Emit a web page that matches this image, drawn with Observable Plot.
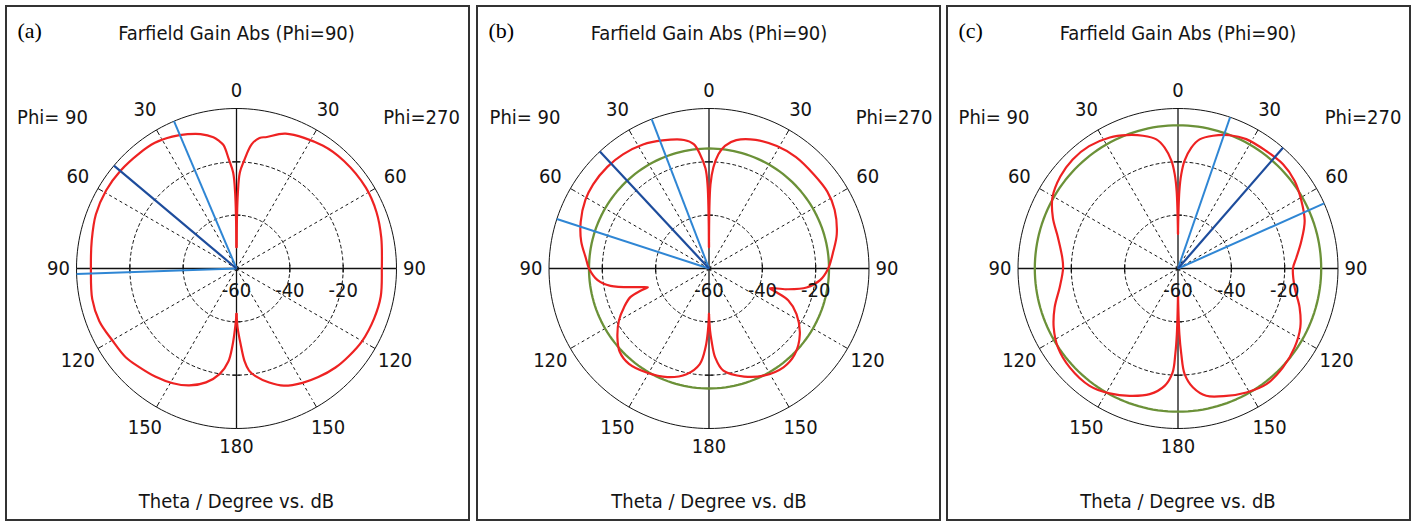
<!DOCTYPE html>
<html><head><meta charset="utf-8">
<script src="https://cdn.jsdelivr.net/npm/d3@7"></script>
<script src="https://cdn.jsdelivr.net/npm/@observablehq/plot@0.6"></script>
<style>
body{margin:0;background:#fff;width:1416px;height:522px;overflow:hidden;position:relative}
.panel{position:absolute;top:5px;width:461px;height:512px;border:2px solid #333;background:#fff}
.panel svg{display:block}
</style></head><body>
<div id="p0" class="panel" style="left:5px"></div>
<div id="p1" class="panel" style="left:476px"></div>
<div id="p2" class="panel" style="left:946px"></div>
<script>
// ---------- data ----------
const DB_MIN = -60, DB_MAX = 0;
const gridDb = [-40, -20];
const radialLabelDb = [-60, -40, -20];
const thetaTicks = [0, 30, 60, 90, 120, 150, 180];
const spokeThetas = [30, 60, 120, 150];
const panelTags = ["(a)", "(b)", "(c)"];
const titleText = "Farfield Gain Abs (Phi=90)";
const captionText = "Theta / Degree vs. dB";
const phiLeftLabel = "Phi= 90";
const phiRightLabel = "Phi=270";

// [theta (deg), gain (dB)]
const redA_phi90 = [[0,-52],[1,-32],[2,-24],[4,-19],[6,-13.5],[8,-11.5],[10,-10],[15,-7.8],[20,-6.4],[26,-5],[33,-3.8],[40,-3.5],[50,-3.1],[59,-3],[69,-3.5],[79,-4.7],[90,-5.4],[102,-4.7],[111,-4.9],[120,-6.2],[129,-6.8],[135,-8],[143,-9.3],[151,-10.8],[158,-12.7],[165,-15.8],[171,-20],[175,-25],[177,-31],[178,-35],[179,-39],[180,-43]];
const redA_phi270 = [[0,-52],[1,-32],[2,-24],[4,-19.5],[7,-13],[10,-10.3],[13,-9.4],[20,-6.2],[35,-3.7],[45,-3],[58,-2.8],[68,-3.4],[78,-4.5],[90,-5.5],[101,-4.9],[110,-5.1],[120,-5.6],[128,-6.6],[135,-7.5],[143,-9],[150,-10.5],[158,-12.6],[164,-15.5],[170,-19],[173,-21.4],[175,-25],[177,-32],[178,-35],[179,-38],[180,-43]];
const redB_phi90 = [[0,-52],[1,-28.5],[2,-22.5],[4.5,-17],[7,-13],[11,-10.9],[20,-8.9],[28,-7.3],[37,-6.4],[45,-6.1],[54,-6.3],[61,-7],[70,-8.8],[78,-11],[85,-13.6],[90,-15],[96,-18],[100,-22.5],[104.5,-32],[107,-36],[108,-33],[110,-28.6],[114.5,-25],[120,-21],[127,-17],[133,-14.2],[140,-13.3],[149,-14.5],[159,-16.4],[168,-19.5],[174.5,-24],[177.5,-30.4],[179,-36.6],[180,-43]];
const redB_phi270 = [[0,-52],[1,-28.5],[2.5,-22],[4.7,-17],[7.4,-13.6],[12,-10.8],[20,-8.7],[29,-7.5],[38,-7],[48,-7.2],[57,-7.1],[65,-8],[75,-10.4],[82,-12.9],[90,-15.3],[96,-18.1],[101,-22.7],[105,-29.9],[108,-36],[109.5,-33],[112,-27.9],[117.5,-23],[126,-17.9],[135,-14.5],[143,-13.6],[153,-14.9],[162,-17.4],[172,-21.3],[176,-26.5],[178,-32.9],[179,-36.6],[180,-43]];
const redC_phi90 = [[0,-47],[1,-31],[2,-24.6],[3.5,-19.5],[6.3,-14.4],[9.5,-10.9],[14.8,-8.5],[21,-6.4],[27.5,-4.6],[36,-3.3],[44,-3.15],[52,-4],[60.5,-5.9],[68,-9.4],[75.5,-13.5],[84.6,-16.4],[90,-16.9],[99,-15.1],[107.5,-11.5],[115.4,-8.4],[123.4,-6.1],[132.4,-5],[143,-4.9],[151.3,-6.6],[159.2,-8.9],[167.3,-11.7],[173.5,-15.7],[177,-20.9],[178.2,-27.9],[179,-35.4],[180,-50]];
const redC_phi270 = [[0,-47],[1,-31],[2,-24.6],[3.5,-19.5],[6.3,-14.4],[9.5,-10.9],[14.8,-8.5],[21.2,-6.4],[27.8,-5.15],[36.9,-4.9],[45.2,-4.5],[53.1,-5.3],[61.2,-7.2],[69.4,-9.25],[77.4,-12.6],[84.7,-15.4],[90,-16.9],[99.2,-15.7],[107.8,-12.1],[115.7,-9.1],[124.1,-7.2],[133.3,-5.9],[142.6,-5.4],[151.1,-6.9],[159.2,-8.9],[167.5,-11.1],[172.8,-15],[176.4,-20.3],[177.8,-27.9],[178.8,-35.4],[180,-50]];
const greenLevel = [null, -15, -6.3];          // dB circle
const mainLobeTheta = [50, 43, 41];
const mainLobePhi = [90, 90, 270];
const beamEdgeTheta = [[23, 92], [21, 72], [19, 66]];
const redSeries = [[redA_phi90, redA_phi270], [redB_phi90, redB_phi270], [redC_phi90, redC_phi270]];

// ---------- layout / style ----------
const R_PX = 160;
const centerX = [229, 230.5, 229.5];
const centerY = 261;
const SANS = "'DejaVu Sans Condensed', 'DejaVu Sans', sans-serif";
const SERIF = "'Liberation Serif', 'DejaVu Serif', serif";
const FS = 20;
const INK = "#141414";
const RED = "#ee2222", GREEN = "#6b9138", BLUE_L = "#2f86d4", BLUE_D = "#1d4c9c";

const span = DB_MAX - DB_MIN;
const k = R_PX / span;
const rad = d => d * Math.PI / 180;
const rOf = db => Math.max(0, db - DB_MIN);
function polar(theta, db, phi) {
  const s = phi === 90 ? -1 : 1, r = rOf(db);
  return {x: s * r * Math.sin(rad(theta)), y: r * Math.cos(rad(theta))};
}
function circle(db) {
  const r = rOf(db);
  return d3.range(0, 361, 2).map(a => ({x: r * Math.sin(rad(a)), y: r * Math.cos(rad(a))}));
}

function panel(i) {
  const cx = centerX[i];
  const marks = [];
  for (const v of gridDb) marks.push(Plot.line(circle(v), {x: "x", y: "y", stroke: INK, strokeWidth: 1, strokeDasharray: "3,3"}));
  const spokes = spokeThetas.flatMap(t => [90, 270].map(p => ({t, p})));
  marks.push(Plot.link(spokes, {
    x1: () => 0, y1: () => 0,
    x2: d => polar(d.t, DB_MAX - 3.2, d.p).x, y2: d => polar(d.t, DB_MAX - 3.2, d.p).y,
    stroke: INK, strokeWidth: 1, strokeDasharray: "3,3"}));
  marks.push(Plot.link(spokes, {
    x1: d => polar(d.t, DB_MAX - 2.2, d.p).x, y1: d => polar(d.t, DB_MAX - 2.2, d.p).y,
    x2: d => polar(d.t, DB_MAX, d.p).x, y2: d => polar(d.t, DB_MAX, d.p).y,
    stroke: INK, strokeWidth: 1}));
  marks.push(Plot.line(circle(DB_MAX), {x: "x", y: "y", stroke: INK, strokeWidth: 1}));
  const R = rOf(DB_MAX);
  marks.push(Plot.link([{x1: -R, y1: 0, x2: R, y2: 0}, {x1: 0, y1: -R, x2: 0, y2: R}],
    {x1: "x1", y1: "y1", x2: "x2", y2: "y2", stroke: "#111", strokeWidth: 1.3}));
  const tl = 4 / k;
  const axTicks = gridDb.flatMap(v => {
    const r = rOf(v);
    return [
      {x1: r, y1: -tl, x2: r, y2: tl}, {x1: -r, y1: -tl, x2: -r, y2: tl},
      {x1: -tl, y1: r, x2: tl, y2: r}, {x1: -tl, y1: -r, x2: tl, y2: -r}];
  });
  marks.push(Plot.link(axTicks, {x1: "x1", y1: "y1", x2: "x2", y2: "y2", stroke: "#111", strokeWidth: 1.2}));
  if (greenLevel[i] != null) marks.push(Plot.line(circle(greenLevel[i]), {x: "x", y: "y", stroke: GREEN, strokeWidth: 2.3}));
  const [s90, s270] = redSeries[i];
  for (const [ser, phi] of [[s90, 90], [s270, 270]]) {
    marks.push(Plot.line(ser.map(([t, g]) => polar(t, g, phi)),
      {x: "x", y: "y", stroke: RED, strokeWidth: 2.2, curve: "catmull-rom"}));
  }
  const bl = beamEdgeTheta[i].map(t => ({t, p: mainLobePhi[i]}));
  marks.push(Plot.link(bl, {x1: () => 0, y1: () => 0,
    x2: d => polar(d.t, DB_MAX, d.p).x, y2: d => polar(d.t, DB_MAX, d.p).y, stroke: BLUE_L, strokeWidth: 2}));
  marks.push(Plot.link([{t: mainLobeTheta[i], p: mainLobePhi[i]}], {x1: () => 0, y1: () => 0,
    x2: d => polar(d.t, DB_MAX, d.p).x, y2: d => polar(d.t, DB_MAX, d.p).y, stroke: BLUE_D, strokeWidth: 2.2}));
  const labs = thetaTicks.flatMap(t => (t === 0 || t === 180) ? [{t, p: 270}] : [{t, p: 90}, {t, p: 270}]);
  const lr = t => (178 + 6 * Math.abs(Math.sin(rad(2 * t)))) / k + DB_MIN;
  marks.push(Plot.text(labs, {
    x: d => polar(d.t, lr(d.t), d.p).x, y: d => polar(d.t, lr(d.t), d.p).y,
    text: d => String(d.t), fontSize: FS, fontFamily: SANS, fill: INK, textAnchor: "middle", lineAnchor: "middle"}));
  marks.push(Plot.text(radialLabelDb, {
    x: v => rOf(v), y: () => -22 / k, text: v => String(v),
    fontSize: FS, fontFamily: SANS, fill: INK, textAnchor: "middle", lineAnchor: "middle"}));
  marks.push(Plot.text([{s: phiLeftLabel, x: -184}, {s: phiRightLabel, x: 185}], {
    x: d => d.x / k, y: () => 151 / k, text: "s",
    fontSize: FS, fontFamily: SANS, fill: INK, textAnchor: "middle", lineAnchor: "middle"}));
  marks.push(Plot.text([titleText], {x: () => 0, y: () => 235 / k, text: d => d,
    fontSize: FS, fontFamily: SANS, fill: INK, textAnchor: "middle", lineAnchor: "middle"}));
  marks.push(Plot.text([captionText], {x: () => 0, y: () => -233 / k, text: d => d,
    fontSize: FS, fontFamily: SANS, fill: INK, textAnchor: "middle", lineAnchor: "middle"}));
  marks.push(Plot.text([panelTags[i]], {x: () => -(cx - 10) / k, y: () => 238 / k, text: d => d,
    fontSize: 22, fontFamily: SERIF, fill: "#000", textAnchor: "start", lineAnchor: "middle"}));

  return Plot.plot({
    width: 461, height: 512, margin: 0,
    x: {domain: [-span, span], range: [cx - R_PX, cx + R_PX], axis: null},
    y: {domain: [-span, span], range: [centerY + R_PX, centerY - R_PX], axis: null},
    style: {background: "#fff", overflow: "visible", fontStretch: "condensed"},
    marks
  });
}
for (let i = 0; i < 3; i++) document.getElementById("p" + i).appendChild(panel(i));
</script>
</body></html>
